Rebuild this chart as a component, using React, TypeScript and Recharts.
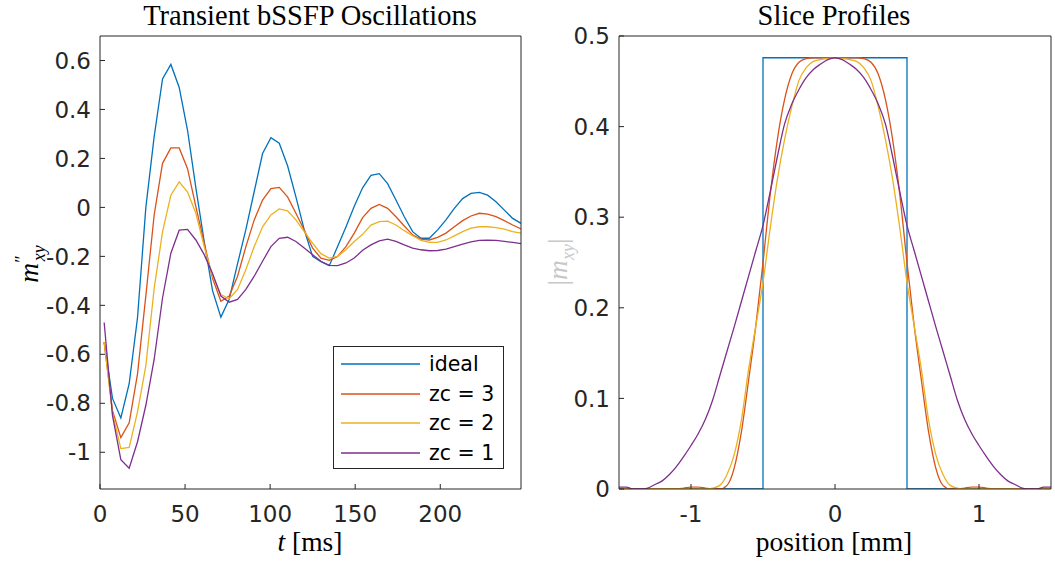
import React from "react";
import { LineChart, Line, XAxis, YAxis } from "recharts";

// sample times of the transient signal [ms]
const time = [
  2.45, 7.35, 12.25, 17.15, 22.05, 26.95, 31.85, 36.75, 41.65, 46.55, 51.45, 56.35, 61.25,
  66.15, 71.05, 75.95, 80.85, 85.75, 90.65, 95.55, 100.45, 105.35, 110.25, 115.15, 120.05,
  124.95, 129.85, 134.75, 139.65, 144.55, 149.45, 154.35, 159.25, 164.15, 169.05, 173.95,
  178.85, 183.75, 188.65, 193.55, 198.45, 203.35, 208.25, 213.15, 218.05, 222.95, 227.85,
  232.75, 237.65, 242.55, 247.45,
];

const ideal = [
  -0.55, -0.78, -0.86, -0.72, -0.45, 0.0, 0.29, 0.525, 0.584, 0.49, 0.315, 0.08, -0.14,
  -0.34, -0.448, -0.375, -0.23, -0.09, 0.065, 0.22, 0.285, 0.262, 0.17, 0.043, -0.092,
  -0.2, -0.222, -0.238, -0.16, -0.08, 0.005, 0.08, 0.131, 0.138, 0.097, 0.03, -0.038,
  -0.099, -0.126, -0.126, -0.092, -0.051, -0.004, 0.036, 0.057, 0.061, 0.05, 0.023, -0.011,
  -0.045, -0.065,
];

const zc3 = [
  -0.55, -0.83, -0.94, -0.88, -0.68, -0.36, -0.03, 0.18, 0.243, 0.243, 0.158, 0.003, -0.146,
  -0.29, -0.383, -0.362, -0.281, -0.16, -0.051, 0.03, 0.077, 0.082, 0.043, -0.024, -0.092,
  -0.166, -0.207, -0.216, -0.2, -0.16, -0.105, -0.042, -0.004, 0.012, -0.004, -0.038,
  -0.076, -0.112, -0.13, -0.133, -0.122, -0.105, -0.079, -0.054, -0.035, -0.024, -0.027,
  -0.038, -0.054, -0.072, -0.088,
];

const zc2 = [
  -0.55, -0.84, -0.985, -0.98, -0.835, -0.646, -0.33, -0.1, 0.05, 0.104, 0.063, -0.024,
  -0.16, -0.281, -0.356, -0.373, -0.335, -0.254, -0.16, -0.079, -0.031, -0.006, -0.014,
  -0.051, -0.099, -0.146, -0.189, -0.207, -0.2, -0.173, -0.139, -0.11, -0.072, -0.058,
  -0.056, -0.072, -0.095, -0.116, -0.135, -0.143, -0.143, -0.133, -0.116, -0.099, -0.085,
  -0.079, -0.079, -0.083, -0.089, -0.099, -0.105,
];

const zc1 = [
  -0.47, -0.85, -1.03, -1.065, -0.957, -0.808, -0.62, -0.37, -0.187, -0.093, -0.09, -0.133,
  -0.193, -0.27, -0.362, -0.387, -0.376, -0.335, -0.281, -0.22, -0.16, -0.126, -0.122,
  -0.139, -0.166, -0.193, -0.22, -0.237, -0.238, -0.227, -0.207, -0.175, -0.153, -0.137,
  -0.13, -0.139, -0.153, -0.166, -0.173, -0.177, -0.176, -0.17, -0.16, -0.15, -0.141,
  -0.135, -0.134, -0.135, -0.139, -0.143, -0.148,
];

// slice profile positions [mm]
const position = [
  -1.5, -1.45, -1.4, -1.35, -1.3, -1.25, -1.2, -1.15, -1.1, -1.05, -1, -0.95, -0.9, -0.85,
  -0.8, -0.75, -0.7, -0.65, -0.6, -0.55, -0.5, -0.45, -0.4, -0.35, -0.3, -0.25, -0.2, -0.15,
  -0.1, -0.05, 0, 0.05, 0.1, 0.15, 0.2, 0.25, 0.3, 0.35, 0.4, 0.45, 0.5, 0.55, 0.6, 0.65,
  0.7, 0.75, 0.8, 0.85, 0.9, 0.95, 1, 1.05, 1.1, 1.15, 1.2, 1.25, 1.3, 1.35, 1.4, 1.45, 1.5,
];

const profZc3 = [
  0, 0, 0, 0, 0, 0, 0, 0, 0, 0.001, 0.002, 0.002, 0.001, 0, 0, 0.004, 0.023, 0.063, 0.12,
  0.18, 0.25, 0.325, 0.386, 0.43, 0.458, 0.471, 0.475, 0.476, 0.476, 0.476, 0.476, 0.476,
  0.476, 0.476, 0.475, 0.471, 0.458, 0.43, 0.386, 0.325, 0.25, 0.18, 0.12, 0.063, 0.023,
  0.004, 0, 0, 0.001, 0.002, 0.002, 0.001, 0, 0, 0, 0, 0, 0, 0, 0, 0,
];

const profZc2 = [
  0, 0, 0, 0, 0, 0, 0, 0, 0, 0, 0.001, 0.001, 0, 0.001, 0.004, 0.016, 0.038, 0.076, 0.132,
  0.18, 0.228, 0.288, 0.342, 0.386, 0.422, 0.451, 0.465, 0.472, 0.474, 0.475, 0.476, 0.475,
  0.474, 0.472, 0.465, 0.451, 0.422, 0.386, 0.342, 0.288, 0.228, 0.18, 0.132, 0.076, 0.038,
  0.016, 0.004, 0.001, 0, 0.001, 0.001, 0, 0, 0, 0, 0, 0, 0, 0, 0, 0,
];

const profZc1 = [
  0.002, 0.002, 0, 0, 0.001, 0.005, 0.009, 0.016, 0.025, 0.036, 0.048, 0.061, 0.077, 0.098,
  0.125, 0.152, 0.179, 0.207, 0.235, 0.263, 0.291, 0.328, 0.367, 0.403, 0.425, 0.441, 0.454,
  0.463, 0.469, 0.474, 0.476, 0.474, 0.469, 0.463, 0.454, 0.441, 0.425, 0.403, 0.367, 0.328,
  0.291, 0.263, 0.235, 0.207, 0.179, 0.152, 0.125, 0.098, 0.077, 0.061, 0.048, 0.036, 0.025,
  0.016, 0.009, 0.005, 0.001, 0, 0, 0.002, 0.002,
];

// ideal rectangular profile
const rectPos = [-1.5, -0.5, -0.5, 0.5, 0.5, 1.5];
const rectVal = [0, 0, 0.476, 0.476, 0, 0];

const tTicks = [0, 50, 100, 150, 200];
const mTicks = [-1, -0.8, -0.6, -0.4, -0.2, 0, 0.2, 0.4, 0.6];
const posTicks = [-1, 0, 1];
const profTicks = [0, 0.1, 0.2, 0.3, 0.4, 0.5];

const series = [
  { key: "ideal", name: "ideal", color: "#0072BD" },
  { key: "zc3", name: "zc = 3", color: "#D95319" },
  { key: "zc2", name: "zc = 2", color: "#EDB120" },
  { key: "zc1", name: "zc = 1", color: "#7E2F8E" },
];

const timeData = time.map((t, i) => ({
  x: t,
  ideal: ideal[i],
  zc3: zc3[i],
  zc2: zc2[i],
  zc1: zc1[i],
}));
const profData = position.map((x, i) => ({
  x,
  zc3: profZc3[i],
  zc2: profZc2[i],
  zc1: profZc1[i],
}));
const rectData = rectPos.map((x, i) => ({ x, ideal: rectVal[i] }));

const INK = "#262626";
const tickStyle = { fill: INK, fontSize: 23, fontFamily: "DejaVu Sans" };
const serif = "'Liberation Serif', 'DejaVu Serif', serif";
const fmt = (v: number) => String(v);

// MATLAB-style box: four axes, ticks pointing inward, labels only bottom/left
function frameAxes(xDomain: number[], xTicks: number[], yDomain: number[], yTicks: number[]) {
  const common = {
    type: "number" as const,
    allowDataOverflow: true,
    stroke: INK,
    tickSize: -5,
    interval: 0 as const,
  };
  return [
    <XAxis
      key="xb"
      dataKey="x"
      {...common}
      domain={xDomain}
      ticks={xTicks}
      height={1}
      tickMargin={22}
      tick={tickStyle}
      tickFormatter={fmt}
    />,
    <XAxis key="xt" xAxisId="top" orientation="top" {...common} domain={xDomain} ticks={xTicks} height={1} tick={false} />,
    <YAxis
      key="yl"
      {...common}
      domain={yDomain}
      ticks={yTicks}
      width={1}
      tickMargin={14}
      tick={tickStyle}
      tickFormatter={fmt}
    />,
    <YAxis key="yr" yAxisId="right" orientation="right" {...common} domain={yDomain} ticks={yTicks} width={1} tick={false} />,
  ];
}

export default function App() {
  return (
    <div
      style={{
        position: "absolute",
        left: 0,
        top: 0,
        width: 1055,
        height: 561,
        background: "#fff",
        overflow: "hidden",
      }}
    >
      {/* left: transient oscillations */}
      <div style={{ position: "absolute", left: 0, top: 0 }}>
        <LineChart
          width={530}
          height={561}
          data={timeData}
          margin={{ top: 35, right: 8, bottom: 71, left: 99 }}
        >
          {frameAxes([0, 247.45], tTicks, [-1.15, 0.7], mTicks)}
          {series.map((s) => (
            <Line
              key={s.key}
              type="linear"
              dataKey={s.key}
              stroke={s.color}
              strokeWidth={1.3}
              dot={false}
              isAnimationActive={false}
            />
          ))}
        </LineChart>
      </div>

      {/* right: slice profiles */}
      <div style={{ position: "absolute", left: 540, top: 0 }}>
        <LineChart
          width={515}
          height={561}
          data={profData}
          margin={{ top: 35, right: 3, bottom: 71, left: 78 }}
        >
          {frameAxes([-1.5, 1.5], posTicks, [0, 0.5], profTicks)}
          <Line
            data={rectData}
            type="linear"
            dataKey="ideal"
            stroke={series[0].color}
            strokeWidth={1.3}
            dot={false}
            isAnimationActive={false}
          />
          {series.slice(1).map((s) => (
            <Line
              key={s.key}
              type="monotone"
              dataKey={s.key}
              stroke={s.color}
              strokeWidth={1.3}
              dot={false}
              isAnimationActive={false}
            />
          ))}
        </LineChart>
      </div>

      {/* legend */}
      <div
        style={{
          position: "absolute",
          left: 333,
          top: 346,
          width: 171,
          height: 123,
          border: `1px solid ${INK}`,
          background: "#fff",
          boxSizing: "border-box",
        }}
      >
        {series.map((s, i) => (
          <div
            key={s.key}
            style={{
              position: "absolute",
              left: 0,
              top: 17 + i * 29.5 - 13,
              height: 26,
              display: "flex",
              alignItems: "center",
            }}
          >
            <svg width={86} height={4} style={{ display: "block" }}>
              <line x1={7} x2={86} y1={2} y2={2} stroke={s.color} strokeWidth={1.3} />
            </svg>
            <span
              style={{
                marginLeft: 9,
                fontFamily: "DejaVu Sans",
                fontSize: 20.5,
                color: "#000",
                whiteSpace: "pre",
              }}
            >
              {s.name}
            </span>
          </div>
        ))}
      </div>

      {/* titles */}
      <div style={{ position: "absolute", left: 110, width: 400, top: 0, textAlign: "center", fontFamily: serif, fontSize: 28.5, color: "#000", lineHeight: "32px" }}>
        Transient bSSFP Oscillations
      </div>
      <div style={{ position: "absolute", left: 634, width: 400, top: 0, textAlign: "center", fontFamily: serif, fontSize: 28.5, color: "#000", lineHeight: "32px" }}>
        Slice Profiles
      </div>

      {/* x labels */}
      <div style={{ position: "absolute", left: 110, width: 400, top: 526, textAlign: "center", fontFamily: serif, fontSize: 27.5, color: "#000", lineHeight: "32px" }}>
        <i>t</i> [ms]
      </div>
      <div style={{ position: "absolute", left: 634, width: 400, top: 526, textAlign: "center", fontFamily: serif, fontSize: 27.5, color: "#000", lineHeight: "32px" }}>
        position [mm]
      </div>

      {/* y labels */}
      <div
        style={{
          position: "absolute",
          left: 30,
          top: 264,
          transform: "translate(-50%, -50%) rotate(-90deg)",
          fontFamily: serif,
          fontSize: 27.5,
          color: "#000",
          whiteSpace: "nowrap",
          lineHeight: "32px",
        }}
      >
        <i>m</i>
        <sup style={{ fontSize: 18 }}>″</sup>
        <sub style={{ fontSize: 18, marginLeft: -6 }}>
          <i>xy</i>
        </sub>
      </div>
      <div
        style={{
          position: "absolute",
          left: 563,
          top: 262,
          transform: "translate(-50%, -50%) rotate(-90deg)",
          fontFamily: serif,
          fontSize: 27.5,
          color: "#c8c8c8",
          whiteSpace: "nowrap",
          lineHeight: "32px",
        }}
      >
        |<i>m</i>
        <sub style={{ fontSize: 18 }}>
          <i>xy</i>
        </sub>
        |
      </div>
    </div>
  );
}
